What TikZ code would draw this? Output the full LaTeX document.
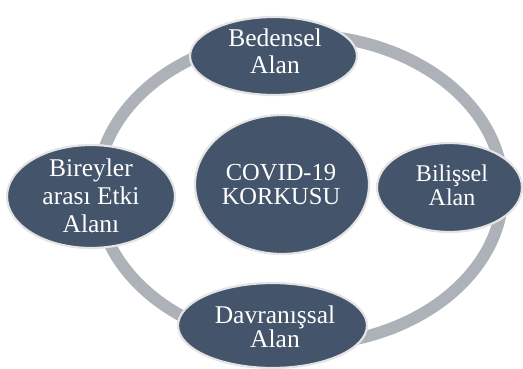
\documentclass[tikz,border=0pt]{standalone}
\usepackage{fontspec}
\setmainfont{Liberation Serif}
\usetikzlibrary{shapes.geometric}
\definecolor{nodefill}{HTML}{44546A}
\definecolor{nodeedge}{HTML}{E4E4E4}
\definecolor{ringgray}{HTML}{ADB1B8}
\tikzset{
  blob/.style={ellipse, fill=nodefill, draw=nodeedge, line width=2.2pt, inner sep=0pt},
  txt/.style={text=white, align=center, inner sep=0pt, font=\fontsize{25.5}{27}\selectfont},
  ring/.style={draw=ringgray, line width=12pt}
}
\begin{document}
\begin{tikzpicture}[x=1pt,y=-1pt]
\useasboundingbox (0,0) rectangle (523,369);
\path[ring] (300,190) ellipse [x radius=203, y radius=155];
\node[blob, minimum width=174pt, minimum height=139pt] (cov) at (282,184.5) {};
\node[blob, minimum width=167pt, minimum height=78pt] (bed) at (273.5,56) {};
\node[blob, minimum width=168pt, minimum height=103pt] (bir) at (91,196.5) {};
\node[blob, minimum width=145pt, minimum height=89pt] (bil) at (449.5,187.5) {};
\node[blob, minimum width=189pt, minimum height=85pt] (dav) at (272.5,325.5) {};
\node[txt, font=\fontsize{24.5}{24}\selectfont] (covt) at (281,184.5) {COVID-19\\KORKUSU};
\node[txt] (bedt) at (275,51) {Bedensel\\Alan};
\node[txt, font=\fontsize{25.5}{28}\selectfont] (birt) at (91,196) {Bireyler\\arası Etki\\Alanı};
\node[txt, font=\fontsize{24}{24}\selectfont] (bilt) at (452,185.5) {Bilişsel\\Alan};
\node[txt, font=\fontsize{25.5}{23}\selectfont] (davt) at (275,327) {Davranışsal\\Alan};
\end{tikzpicture}
\end{document}
